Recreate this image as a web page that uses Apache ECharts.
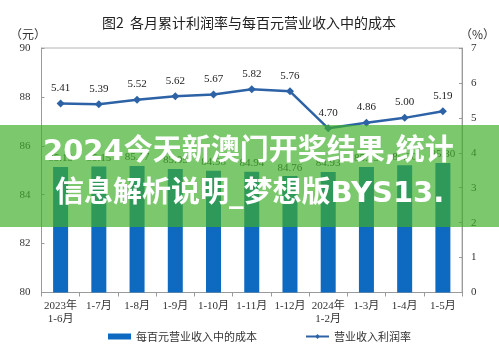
<!DOCTYPE html>
<html>
<head>
<meta charset="utf-8">
<script src="https://cdn.jsdelivr.net/npm/echarts@6/dist/echarts.min.js"></script>
<style>
  html, body { margin: 0; padding: 0; background: #fff; }
  #chart { width: 499px; height: 353px; }
</style>
</head>
<body>
<div id="chart"></div>
<script>
// categories (x axis)
const months = ['2023年\n1-6月', '1-7月', '1-8月', '1-9月', '1-10月', '1-11月', '1-12月', '2024年\n1-2月', '1-3月', '1-4月', '1-5月'];
// 每百元营业收入中的成本 (元), left axis
const costPer100 = [85.13, 85.15, 85.17, 85.05, 84.98, 84.94, 84.76, 84.93, 85.13, 85.20, 85.30];
// 营业收入利润率 (%), right axis
const profitRate = [5.41, 5.39, 5.52, 5.62, 5.67, 5.82, 5.76, 4.70, 4.86, 5.00, 5.19];

const serif = '"Liberation Serif", "Noto Sans CJK SC", serif';
const cjk = '"Noto Sans CJK SC", sans-serif';

const chart = echarts.init(document.getElementById('chart'), null, { renderer: 'canvas' });

chart.setOption({
  animation: false,
  title: {
    text: '图2  各月累计利润率与每百元营业收入中的成本',
    left: 97,
    top: 11,
    textStyle: { fontFamily: cjk, fontSize: 14, fontWeight: 'normal', color: '#222' }
  },
  grid: {
    left: 41.5, right: 37, top: 48, bottom: 60.5,
    show: true, borderColor: '#b4b4b4', borderWidth: 1, backgroundColor: 'transparent'
  },
  legend: {
    left: 103,
    top: 326,
    itemGap: 48,
    itemWidth: 23,
    itemHeight: 6,
    textStyle: { fontFamily: cjk, fontSize: 11, color: '#333' },
    data: [
      { name: '每百元营业收入中的成本', icon: 'rect' },
      { name: '营业收入利润率' }
    ]
  },
  xAxis: {
    type: 'category',
    data: months,
    boundaryGap: true,
    axisLine: { lineStyle: { color: '#9a9a9a' } },
    axisTick: { show: true, interval: 0, length: 4, lineStyle: { color: '#9a9a9a' } },
    axisLabel: { interval: 0, fontFamily: serif, fontSize: 11, color: '#333', margin: 7, lineHeight: 13 }
  },
  yAxis: [
    {
      type: 'value',
      min: 80, max: 90, interval: 2,
      splitLine: { show: false },
      axisLine: { show: true, lineStyle: { color: '#9a9a9a' } },
      axisTick: { show: true, inside: true, length: 3, lineStyle: { color: '#9a9a9a' } },
      axisLabel: { fontFamily: serif, fontSize: 11, color: '#333', margin: 11 }
    },
    {
      type: 'value',
      min: 0, max: 7, interval: 1,
      splitLine: { show: false },
      axisLine: { show: true, lineStyle: { color: '#9a9a9a' } },
      axisTick: { show: true, inside: true, length: 3, lineStyle: { color: '#9a9a9a' } },
      axisLabel: { fontFamily: serif, fontSize: 11, color: '#333', margin: 9 }
    }
  ],
  series: [
    {
      name: '每百元营业收入中的成本',
      type: 'bar',
      yAxisIndex: 0,
      barWidth: 15,
      color: '#0d6ac0',
      data: costPer100,
      label: {
        show: true, position: 'top', distance: 3,
        fontFamily: serif, fontSize: 11, color: '#333',
        formatter: (p) => p.value.toFixed(2)
      }
    },
    {
      name: '营业收入利润率',
      type: 'line',
      yAxisIndex: 1,
      color: '#2d63a6',
      symbol: 'diamond',
      symbolSize: 8,
      lineStyle: { width: 2.5, color: '#2d63a6' },
      itemStyle: { color: '#2d63a6' },
      data: profitRate,
      label: {
        show: true, position: 'top', distance: 6,
        fontFamily: serif, fontSize: 11, color: '#222',
        formatter: (p) => p.value.toFixed(2)
      },
      z: 3
    }
  ],
  graphic: [
    {
      type: 'text', left: 10, top: 28,
      style: { text: '（元）', font: '12px ' + cjk, fill: '#333' }
    },
    {
      type: 'text', left: 460, top: 28,
      style: { text: '（%）', font: '12px ' + cjk, fill: '#333' }
    },
    {
      type: 'rect', left: 0, top: 125, z: 100,
      shape: { width: 499, height: 102 },
      style: { fill: 'rgba(62,176,40,0.68)' }
    },
    {
      type: 'text', left: 43, top: 138, z: 101,
      style: {
        text: '2024今天新澳门开奖结果,统计',
        font: 'bold 29px "DejaVu Sans", "Noto Sans CJK SC", sans-serif',
        fill: '#fff'
      }
    },
    {
      type: 'text', left: 55, top: 180, z: 101,
      style: {
        text: '信息解析说明_梦想版BYS13.',
        font: 'bold 29px "DejaVu Sans", "Noto Sans CJK SC", sans-serif',
        fill: '#fff'
      }
    }
  ]
});
</script>
</body>
</html>
